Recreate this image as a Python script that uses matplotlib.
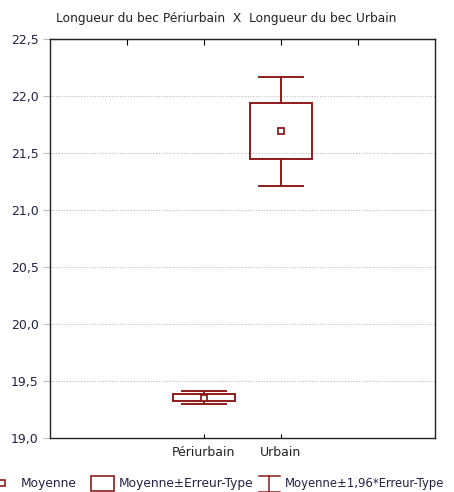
import numpy as np
import matplotlib
matplotlib.use('Agg')
import matplotlib.pyplot as plt
from matplotlib.patches import Rectangle
from matplotlib.lines import Line2D

# Moyenne, erreur-type par groupe
groupes = ['Périurbain', 'Urbain']
positions = [2, 3]
moyennes = [19.355, 21.69]
erreurs_type = [0.030, 0.245]

COULEUR = '#8e1b1b'
plt.rcParams['font.family'] = ['DejaVu Sans']

fig = plt.figure(figsize=(4.54, 4.92), dpi=100)
ax = fig.add_axes([0.110, 0.1098, 0.848, 0.811])

largeur_boite = 0.8
largeur_cap = 0.57
for x, m, se in zip(positions, moyennes, erreurs_type):
    bas, haut = m - 1.96 * se, m + 1.96 * se
    ax.add_patch(Rectangle((x - largeur_boite / 2, m - se), largeur_boite, 2 * se,
                           fill=False, edgecolor=COULEUR, lw=1.4, zorder=3))
    ax.plot([x, x], [m + se, haut], color=COULEUR, lw=1.4, zorder=3)
    ax.plot([x, x], [bas, m - se], color=COULEUR, lw=1.4, zorder=3)
    for y in (bas, haut):
        ax.plot([x - largeur_cap / 2, x + largeur_cap / 2], [y, y], color=COULEUR, lw=1.4, zorder=3)
    ax.plot(x, m, marker='s', ms=4.5, mfc='white', mec=COULEUR, mew=1.3, zorder=4)

ax.set_xlim(0, 5)
ax.set_ylim(19.0, 22.5)
yt = np.arange(19.0, 22.51, 0.5)
ax.set_yticks(yt)
ax.set_yticklabels([f'{v:.1f}'.replace('.', ',') for v in yt], fontsize=9, color='#222244')
ax.tick_params(axis='y', length=5, color='#bbbbbb', width=0.8, pad=3)
ax.set_xticks(positions)
ax.set_xticklabels(groupes, fontsize=9, color='#222222')
ax.tick_params(axis='x', direction='in', length=3, pad=6)
for y in yt[1:-1]:
    ax.axhline(y, color='#bbbbbb', lw=0.8, ls=(0, (1, 1.5)), zorder=1)

# graduations en haut
ax_haut = ax.secondary_xaxis('top')
ax_haut.set_xticks([1, 2, 3, 4])
ax_haut.set_xticklabels([])
ax_haut.tick_params(direction='in', length=4)

for s in ax.spines.values():
    s.set_linewidth(1.0)
    s.set_color('#222222')

fig.text(0.498, 0.963, 'Longueur du bec Périurbain  X  Longueur du bec Urbain',
         ha='center', va='center', fontsize=8.8, color='#222222')

# légende en bas
y_leg = 0.017
fs_leg = 8.8
fig.add_artist(Line2D([0.005], [y_leg + 0.001], marker='s', ms=4, mfc='white', mec=COULEUR,
                      mew=1.2, transform=fig.transFigure))
fig.text(0.045, y_leg, 'Moyenne', fontsize=fs_leg, va='center', color='#222244')
fig.add_artist(Rectangle((0.200, y_leg - 0.014), 0.052, 0.029, fill=False,
                         edgecolor=COULEUR, lw=1.2, transform=fig.transFigure))
fig.text(0.262, y_leg, 'Moyenne±Erreur-Type', fontsize=fs_leg, va='center', color='#222244')
fig.add_artist(Line2D([0.570, 0.616], [y_leg + 0.015] * 2, color=COULEUR, lw=1.1, transform=fig.transFigure))
fig.add_artist(Line2D([0.570, 0.616], [y_leg - 0.017] * 2, color=COULEUR, lw=1.1, transform=fig.transFigure))
fig.add_artist(Line2D([0.593, 0.593], [y_leg - 0.017, y_leg + 0.015], color=COULEUR, lw=1.1, transform=fig.transFigure))
fig.text(0.627, y_leg, 'Moyenne±1,96*Erreur-Type', fontsize=8.4, va='center', color='#222244')

fig.savefig('out.png', dpi=100)
